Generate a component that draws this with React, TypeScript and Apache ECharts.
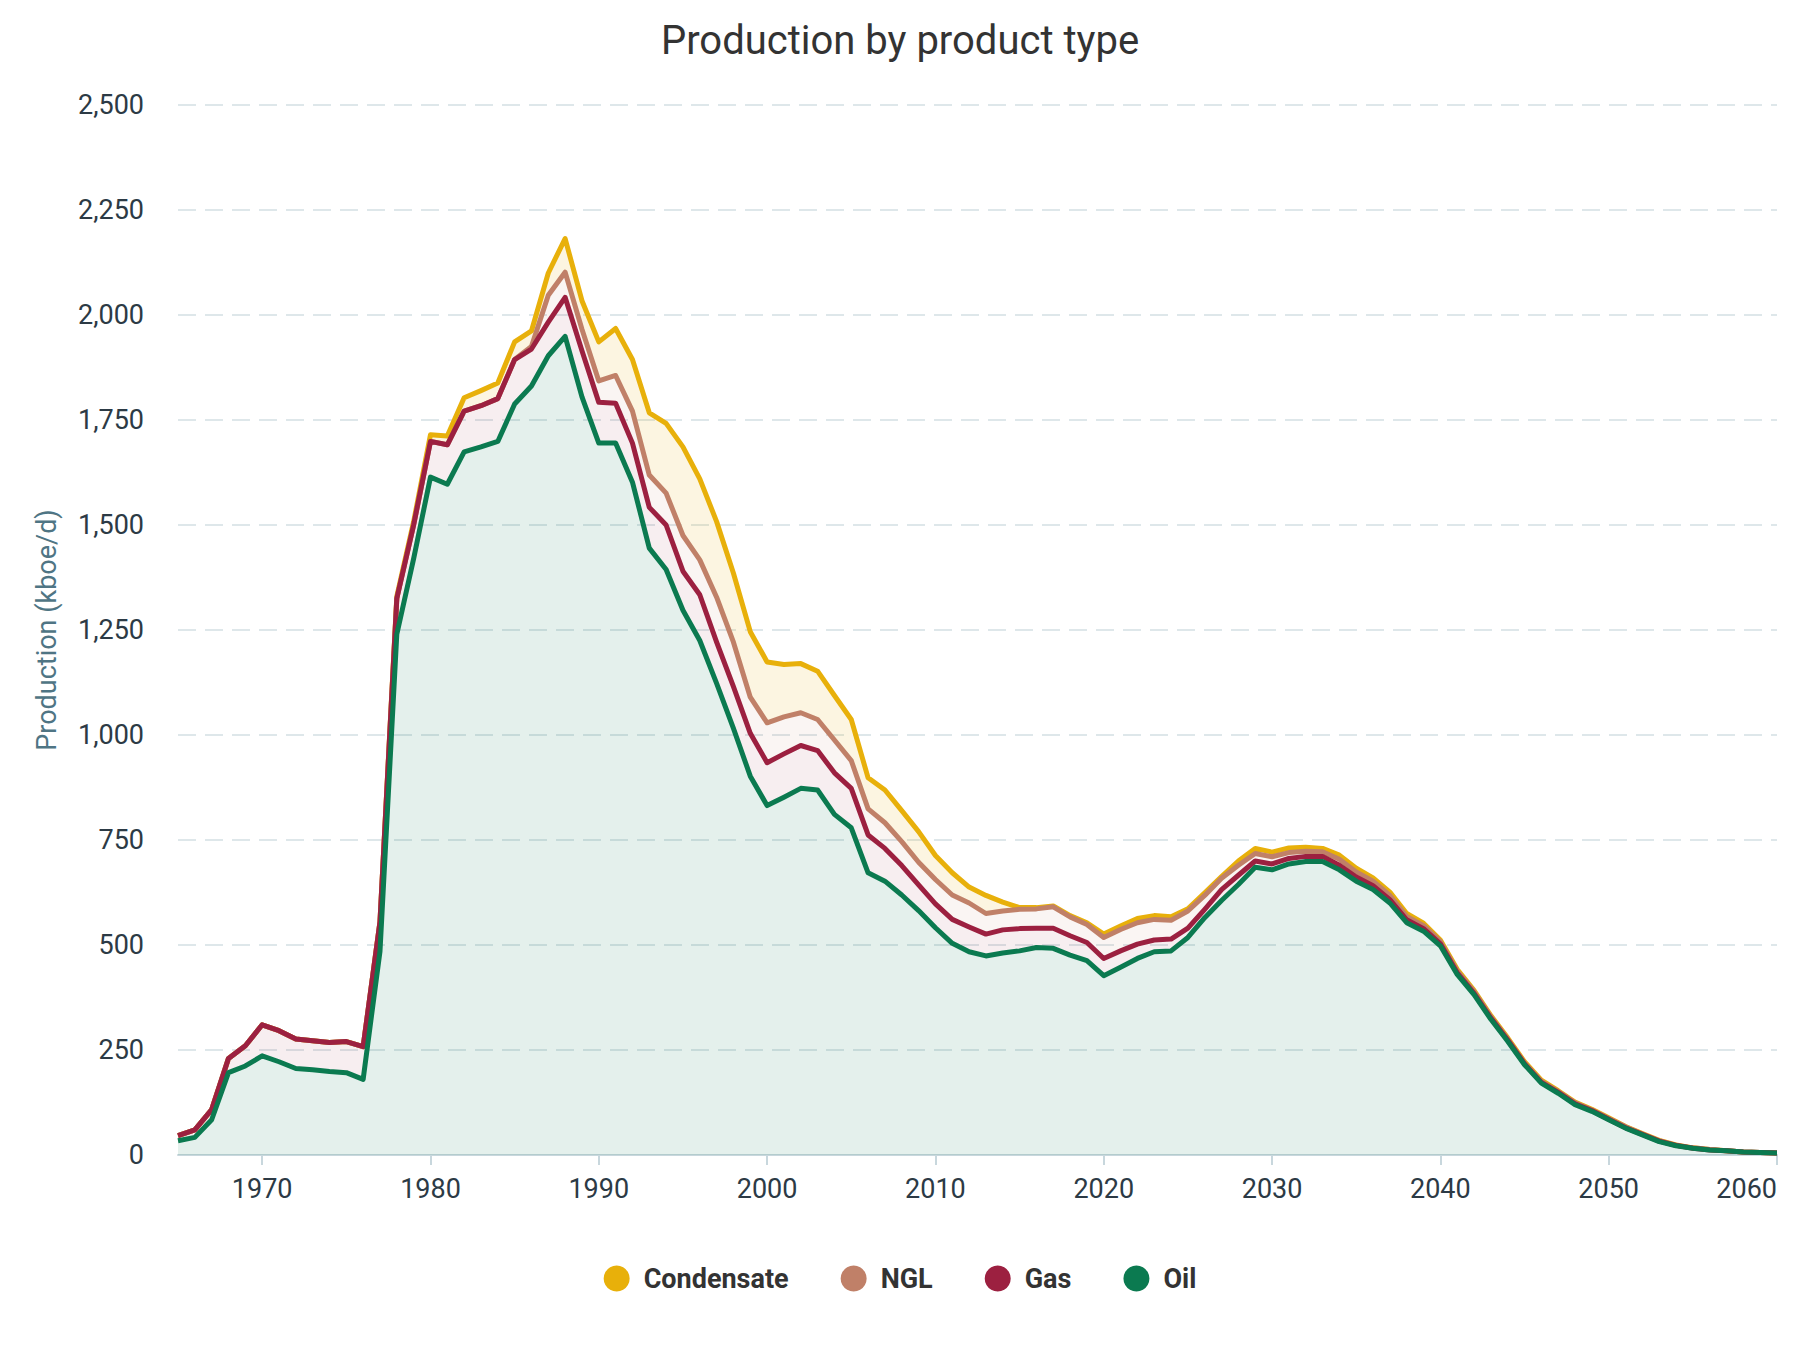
import { useEffect, useRef } from 'react'
import * as echarts from 'echarts'

const years = Array.from({ length: 96 }, (_, i) => String(1965 + i))

// kboe/d, 1965 → 2060
const oil = [
  34, 42, 84, 196, 212, 236, 222, 206, 203, 199, 196, 180, 485, 1240, 1420,
  1614, 1597, 1674, 1686, 1699, 1788, 1831, 1903, 1949, 1805,
  1695, 1695, 1602, 1445, 1394, 1297, 1225, 1123, 1016, 902,
  832, 852, 873, 869, 811, 779, 672, 652, 619, 582,
  541, 504, 484, 474, 481, 486, 494, 492, 476, 463,
  427, 447, 468, 484, 486, 518, 565, 606, 644, 685,
  679, 693, 699, 699, 679, 652, 632, 600, 553, 533,
  498, 430, 382, 323, 271, 215, 171, 147, 120, 104,
  84, 64, 48, 32, 22, 16, 12, 10, 7, 6, 5,
]

const gas = [
  12, 18, 24, 34, 48, 74, 74, 70, 69, 69, 74, 78, 70, 85, 80,
  85, 94, 97, 98, 102, 106, 88, 80, 93, 110,
  97, 95, 93, 97, 106, 93, 109, 98, 99, 102,
  102, 103, 102, 94, 99, 94, 90, 78, 70, 61,
  57, 57, 59, 52, 55, 53, 46, 48, 46, 43,
  41, 39, 34, 28, 28, 22, 20, 26, 22, 15,
  14, 13, 12, 12, 11, 10, 9, 8, 7, 6,
  5, 4, 3, 3, 3, 2, 2, 2, 2, 2,
  1, 1, 1, 1, 1, 0, 0, 0, 0, 0, 0,
]

const ngl = [
  0, 0, 0, 0, 0, 0, 0, 0, 0, 0, 0, 0, 0, 0, 0,
  0, 0, 0, 0, 0, 0, 6, 64, 60, 51,
  51, 66, 76, 77, 76, 85, 83, 107, 106, 86,
  95, 88, 78, 74, 78, 66, 62, 61, 57, 54,
  58, 58, 57, 49, 45, 46, 46, 51, 45, 43,
  50, 51, 51, 49, 45, 41, 33, 27, 24, 18,
  17, 14, 12, 11, 14, 12, 11, 10, 8, 7,
  5, 4, 4, 3, 2, 2, 2, 2, 2, 1,
  2, 2, 1, 1, 0, 1, 1, 0, 0, 0, 0,
]

const condensate = [
  0, 0, 0, 0, 0, 0, 0, 0, 0, 0, 0, 0, 0, 5, 8,
  16, 21, 32, 36, 37, 42, 37, 53, 80, 68,
  93, 112, 123, 148, 166, 211, 193, 180, 164, 156,
  145, 125, 117, 115, 106, 98, 74, 78, 74, 73,
  57, 53, 38, 43, 21, 4, 3, 2, 3, 4,
  8, 8, 10, 9, 8, 5, 6, 4, 10, 12,
  11, 11, 10, 8, 10, 9, 8, 8, 7, 6,
  4, 4, 3, 3, 3, 3, 3, 2, 2, 2,
  2, 1, 1, 1, 1, 0, 0, 0, 0, 0, 0,
]

const legendOrder = ['Condensate', 'NGL', 'Gas', 'Oil']

const FONT = 'Roboto, "Noto Sans", sans-serif'

// lower layers are drawn on top so that coinciding lines show the bottom one
function stackSeries(name: string, data: number[], color: string, fill: string, z: number) {
  return {
    name,
    type: 'line',
    stack: 'total',
    data,
    z,
    symbol: 'none',
    showSymbol: false,
    color,
    lineStyle: { color, width: 5, join: 'round' },
    areaStyle: { color: fill, opacity: 1 },
    emphasis: { disabled: true },
  }
}

export default function App() {
  const chartRef = useRef<HTMLDivElement>(null)

  useEffect(() => {
    if (!chartRef.current) return
    const chart = echarts.init(chartRef.current, null, { renderer: 'svg' })

    const option: any = {
      animation: false,
      backgroundColor: '#ffffff',
      textStyle: { fontFamily: FONT },
      title: {
        text: 'Production by product type',
        left: 'center',
        top: 15,
        textStyle: { fontSize: 40, fontWeight: 'normal', color: '#333333', fontFamily: FONT },
      },
      legend: {
        data: legendOrder,
        bottom: 53,
        left: 'center',
        icon: 'circle',
        itemWidth: 26,
        itemHeight: 26,
        itemGap: 52,
        textStyle: { fontSize: 27, fontWeight: 'bold', color: '#333333', fontFamily: FONT, padding: [0, 0, 0, 9] },
      },
      grid: { left: 178, right: 23, top: 105, bottom: 195 },
      xAxis: {
        type: 'category',
        data: years,
        boundaryGap: false,
        axisLine: { lineStyle: { color: '#c8d7dd', width: 2 } },
        axisTick: {
          show: true,
          length: 10,
          interval: (_i: number, v: string) => Number(v) % 10 === 0,
          lineStyle: { color: '#c8d7dd', width: 2 },
        },
        axisLabel: {
          interval: (_i: number, v: string) => Number(v) % 10 === 0,
          fontSize: 27,
          color: '#2c3a45',
          margin: 20,
          fontFamily: FONT,
          alignMaxLabel: 'right',
        },
        splitLine: { show: false },
      },
      yAxis: {
        type: 'value',
        min: 0,
        max: 2500,
        interval: 250,
        name: 'Production (kboe/d)',
        nameLocation: 'middle',
        nameGap: 118,
        nameTextStyle: { fontSize: 27, color: '#4f7584', fontFamily: FONT },
        axisLine: { show: false },
        axisTick: { show: false },
        axisLabel: {
          fontSize: 27,
          color: '#2c3a45',
          margin: 34,
          fontFamily: FONT,
          formatter: (v: number) => v.toLocaleString('en-US'),
        },
        splitLine: { lineStyle: { color: '#d3e0e3', width: 1.5, type: [18, 9] } },
      },
      series: [
        stackSeries('Oil', oil, '#0b7a50', 'rgba(11,122,80,0.11)', 5),
        stackSeries('Gas', gas, '#9c2040', 'rgba(156,32,64,0.08)', 4),
        stackSeries('NGL', ngl, '#c08068', 'rgba(192,128,104,0.08)', 3),
        stackSeries('Condensate', condensate, '#e8b00a', 'rgba(232,176,10,0.12)', 2),
      ],
    }

    chart.setOption(option)
    return () => {
      chart.dispose()
    }
  }, [])

  return (
    <div
      ref={chartRef}
      style={{ position: 'fixed', left: 0, top: 0, width: '1800px', height: '1350px' }}
    />
  )
}
